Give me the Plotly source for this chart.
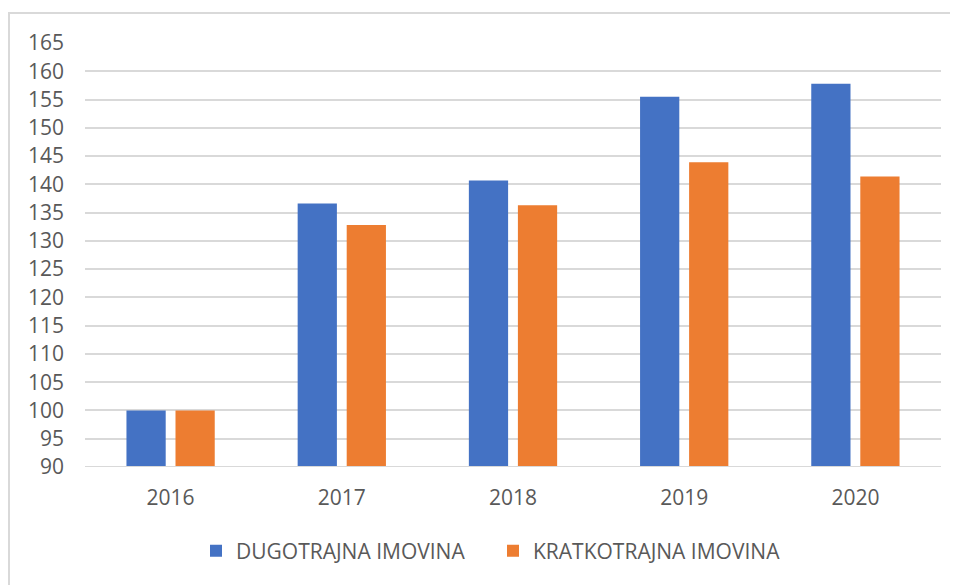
import plotly.graph_objects as go

years = ["2016", "2017", "2018", "2019", "2020"]
dugotrajna = [100, 136.6, 140.7, 155.5, 157.8]
kratkotrajna = [100, 132.8, 136.3, 143.9, 141.4]
y_ticks = list(range(90, 166, 5))

# page has an 8px body margin; figure coordinates = page - 8
W, H = 950, 577
ml, mr, mt, mb = 77, 17, 35, 118
pw, ph = W - ml - mr, H - mt - mb

fig = go.Figure()
fig.add_bar(x=years, y=dugotrajna, name="DUGOTRAJNA IMOVINA",
            marker=dict(color="#4472C4", line=dict(width=0)))
fig.add_bar(x=years, y=kratkotrajna, name="KRATKOTRAJNA IMOVINA",
            marker=dict(color="#ED7D31", line=dict(width=0)))

font = dict(family="Open Sans", size=21, color="#595959")

fig.update_layout(
    width=W, height=H,
    margin=dict(l=ml, r=mr, t=mt, b=mb),
    paper_bgcolor="white", plot_bgcolor="white",
    barmode="group", bargap=0.427, bargroupgap=0.2,
    font=font,
    showlegend=True,
    legend=dict(orientation="h", x=(188 - ml) / pw, xanchor="left",
                y=-(551 - 8 - (H - mb)) / ph, yanchor="middle",
                font=dict(family="Open Sans", size=21, color="#595959"),
                itemwidth=30, entrywidth=252, entrywidthmode="pixels",
                traceorder="normal"),
    xaxis=dict(showgrid=False, showline=False, ticks="", zeroline=False,
               ticklabelstandoff=16, tickfont=font),
    yaxis=dict(range=[90, 165], tickvals=y_ticks, showgrid=True, gridcolor="#d9d9d9",
               gridwidth=2, zeroline=False, showline=False, ticks="",
               ticklabelstandoff=20, tickfont=font),
    shapes=[
        dict(type="line", xref="paper", yref="paper",
             x0=(0 - ml) / pw, x1=(W - ml) / pw, y0=(H - mb - 5) / ph, y1=(H - mb - 5) / ph,
             line=dict(color="#d9d9d9", width=2)),
        dict(type="line", xref="paper", yref="paper",
             x0=(1 - ml) / pw, x1=(1 - ml) / pw, y0=(H - mb - 5) / ph, y1=(-mb) / ph,
             line=dict(color="#d9d9d9", width=2)),
        dict(type="line", xref="paper", yref="y", x0=0, x1=1, y0=90, y1=90,
             line=dict(color="#d9d9d9", width=2)),
    ],
)

fig.write_html("out.html")
